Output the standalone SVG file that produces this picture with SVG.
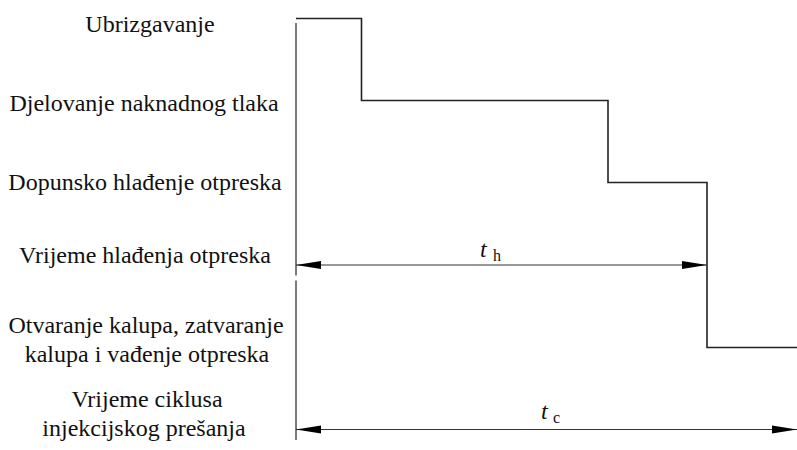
<svg xmlns="http://www.w3.org/2000/svg" width="797" height="450" viewBox="0 0 797 450">
<style>
.lbl{font-size:24px;fill:#111;text-anchor:middle}
.sym{fill:#111}
.step{fill:none;stroke:#222;stroke-width:1.6}
.axis{fill:none;stroke:#444;stroke-width:1.4}
.dim{fill:none;stroke:#333;stroke-width:1.1}
</style>
<defs>
<marker id="aEnd" markerUnits="userSpaceOnUse" markerWidth="26" markerHeight="10" refX="25" refY="5" orient="auto">
<path d="M0,1 L25,5 L0,9 Z" fill="#000"/>
</marker>
<marker id="aStart" markerUnits="userSpaceOnUse" markerWidth="26" markerHeight="10" refX="0" refY="5" orient="auto">
<path d="M25,1 L0,5 L25,9 Z" fill="#000"/>
</marker>
</defs>
<g id="labels" font-family="Liberation Serif, serif">
<text class="lbl" x="150" y="32">Ubrizgavanje</text>
<text class="lbl" x="144" y="111">Djelovanje naknadnog tlaka</text>
<text class="lbl" x="145" y="190">Dopunsko hlađenje otpreska</text>
<text class="lbl" x="145" y="263">Vrijeme hlađenja otpreska</text>
<text class="lbl" x="146" y="333">Otvaranje kalupa, zatvaranje</text>
<text class="lbl" x="147" y="362">kalupa i vađenje otpreska</text>
<text class="lbl" x="147" y="407">Vrijeme ciklusa</text>
<text class="lbl" x="144" y="436">injekcijskog prešanja</text>
</g>
<g id="axis">
<path class="axis" d="M296,23 V275.5 M296,280.5 V440"/>
</g>
<g id="cycle">
<path class="step" d="M296,18.5 H361.5 V100.5 H608 V182.5 H707 V347.5 H797"/>
</g>
<g id="connectors">
<path class="dim" d="M296,265 H707" marker-start="url(#aStart)" marker-end="url(#aEnd)"/>
<path class="dim" d="M296,429.5 H797" marker-start="url(#aStart)" marker-end="url(#aEnd)"/>
</g>
<g id="dimlabels" font-family="Liberation Serif, serif">
<text class="sym" x="480" y="257" font-size="24" font-style="italic">t</text>
<text class="sym" x="493" y="261" font-size="16">h</text>
<text class="sym" x="541" y="419" font-size="24" font-style="italic">t</text>
<text class="sym" x="553" y="423" font-size="16">c</text>
</g>
</svg>
